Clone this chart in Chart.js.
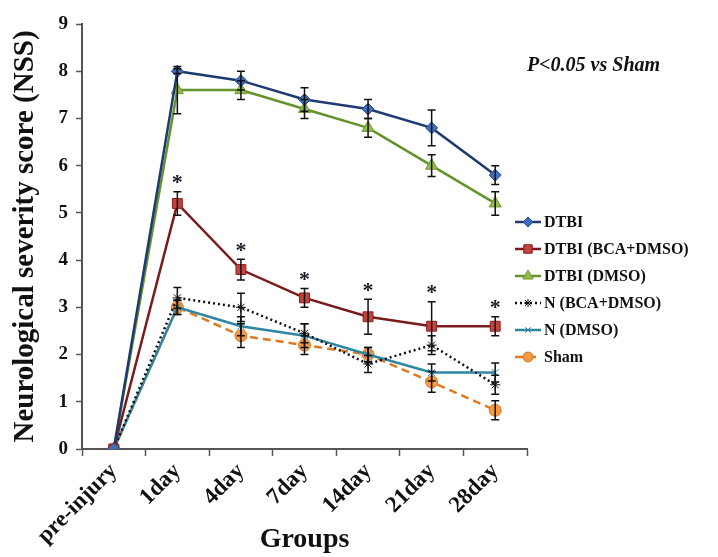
<!DOCTYPE html>
<html lang="en">
<head>
    <meta charset="UTF-8">
    <title>Neurological severity score</title>
    <script src="https://cdn.jsdelivr.net/npm/chart.js"></script>
    <style>
        body { margin: 0; background: #fff; }
        canvas { display: block; }
    </style>
</head>
<body>
    <canvas id="nssChart" width="718" height="557"></canvas>
    <script>
        // data
        const groups = ['pre-injury', '1day', '4day', '7day', '14day', '21day', '28day'];

        const dtbi        = [0, 8.0, 7.8, 7.4, 7.2, 6.8, 5.8];
        const dtbiErr     = [0, 0.05, 0.2, 0.25, 0.2, 0.38, 0.2];
        const dtbiBca     = [0, 5.2, 3.8, 3.2, 2.8, 2.6, 2.6];
        const dtbiBcaErr  = [0, 0.25, 0.22, 0.2, 0.37, 0.52, 0.2];
        const dtbiDmso    = [0, 7.6, 7.6, 7.2, 6.8, 6.0, 5.2];
        const dtbiDmsoErr = [0, 0.5, 0.2, 0.2, 0.2, 0.23, 0.25];
        const nBca        = [0, 3.2, 3.0, 2.45, 1.8, 2.2, 1.36];
        const nBcaErr     = [0, 0.22, 0.3, 0.2, 0.18, 0.2, 0.2];
        const nDmso       = [0, 3.0, 2.6, 2.4, 2.0, 1.62, 1.62];
        const nDmsoErr    = [0, 0.15, 0.2, 0.25, 0.15, 0.18, 0.2];
        const sham        = [0, 3.0, 2.4, 2.2, 2.0, 1.42, 0.82];
        const shamErr     = [0, 0.15, 0.25, 0.2, 0.15, 0.22, 0.2];

        const yTicks = [0, 1, 2, 3, 4, 5, 6, 7, 8, 9];
        // points of DTBI (BCA+DMSO) marked with *
        const starIdx = [1, 2, 3, 4, 5, 6];

        const serif = "'Liberation Serif', 'Times New Roman', serif";

        const errorBars = {
            id: 'errorBars',
            afterDatasetsDraw(chart) {
                const ctx = chart.ctx;
                const y = chart.scales.y;
                ctx.save();
                ctx.strokeStyle = '#111';
                ctx.lineWidth = 1.5;
                chart.data.datasets.forEach((ds, i) => {
                    const meta = chart.getDatasetMeta(i);
                    ds.err.forEach((e, j) => {
                        if (!e) return;
                        const px = meta.data[j].x;
                        const top = y.getPixelForValue(ds.data[j] + e);
                        const bot = y.getPixelForValue(ds.data[j] - e);
                        ctx.beginPath();
                        ctx.moveTo(px, top); ctx.lineTo(px, bot);
                        ctx.moveTo(px - 4, top); ctx.lineTo(px + 4, top);
                        ctx.moveTo(px - 4, bot); ctx.lineTo(px + 4, bot);
                        ctx.stroke();
                    });
                });
                // significance marks
                const bca = chart.data.datasets[1];
                const bmeta = chart.getDatasetMeta(1);
                ctx.fillStyle = '#1b1b2a';
                ctx.font = 'bold 22px ' + serif;
                ctx.textAlign = 'center';
                ctx.textBaseline = 'middle';
                starIdx.forEach(j => {
                    const top = y.getPixelForValue(bca.data[j] + bca.err[j]);
                    ctx.fillText('*', bmeta.data[j].x, top - 8);
                });
                ctx.restore();
            }
        };

        const sideLegend = {
            id: 'sideLegend',
            afterDraw(chart) {
                const ctx = chart.ctx;
                ctx.save();
                chart.data.datasets.forEach((ds, i) => {
                    const yy = 222 + i * 27;
                    ctx.strokeStyle = ds.borderColor;
                    ctx.lineWidth = 2.5;
                    ctx.setLineDash(ds.borderDash || []);
                    ctx.beginPath();
                    ctx.moveTo(515, yy); ctx.lineTo(541, yy);
                    ctx.stroke();
                    ctx.setLineDash([]);
                    ctx.fillStyle = ds.pointBackgroundColor;
                    ctx.strokeStyle = ds.pointBorderColor;
                    ctx.lineWidth = 1;
                    Chart.helpers.drawPoint(ctx, {
                        pointStyle: ds.pointStyle, radius: ds.pointRadius - 1,
                        rotation: 0, borderWidth: 1
                    }, 528, yy);
                    ctx.fillStyle = '#111';
                    ctx.font = 'bold 16px ' + serif;
                    ctx.textAlign = 'left';
                    ctx.textBaseline = 'middle';
                    ctx.fillText(ds.label, 544, yy + 1);
                });
                ctx.font = 'italic bold 20px ' + serif;
                ctx.fillText('P<0.05 vs Sham', 527, 66);
                ctx.restore();
            }
        };

        function series(label, data, err, line, fill, edge, style, radius, dash) {
            return {
                label: label, data: data, err: err,
                borderColor: line, borderWidth: 2.5, borderDash: dash,
                pointStyle: style, pointRadius: radius,
                pointBackgroundColor: fill, pointBorderColor: edge, pointBorderWidth: 1,
                tension: 0
            };
        }

        const ctx = document.getElementById('nssChart').getContext('2d');
        new Chart(ctx, {
            type: 'line',
            data: {
                labels: groups,
                datasets: [
                    series('DTBI', dtbi, dtbiErr, '#1f3a73', '#3f6fb8', '#2a4f8f', 'rectRot', 6),
                    series('DTBI (BCA+DMSO)', dtbiBca, dtbiBcaErr, '#7a1a1a', '#c0433c', '#8a1f1f', 'rect', 7),
                    series('DTBI (DMSO)', dtbiDmso, dtbiDmsoErr, '#64922c', '#97ba4e', '#6f9a34', 'triangle', 7),
                    series('N (BCA+DMSO)', nBca, nBcaErr, '#111111', '#111111', '#111111', 'star', 5, [2, 3]),
                    series('N (DMSO)', nDmso, nDmsoErr, '#2f86a3', '#4aaac8', '#2f86a3', 'crossRot', 5),
                    series('Sham', sham, shamErr, '#e07a22', '#f39a45', '#d9741c', 'circle', 6, [8, 5])
                ]
            },
            options: {
                responsive: false,
                animation: false,
                layout: { padding: { top: 24, right: 191, left: 0, bottom: 0 } },
                plugins: {
                    legend: { display: false },
                    tooltip: { enabled: false }
                },
                scales: {
                    x: {
                        offset: true,
                        afterFit: s => { s.height = 108; },
                        grid: { offset: true, drawOnChartArea: false, tickLength: 7, color: '#555', tickWidth: 1.5 },
                        border: { color: '#555', width: 2 },
                        ticks: {
                            minRotation: 45, maxRotation: 45, padding: 2,
                            color: '#111', font: { family: serif, size: 23, weight: 'bold' }
                        },
                        title: {
                            display: true, text: 'Groups', color: '#111', padding: { top: 0, bottom: 0 },
                            font: { family: serif, size: 28, weight: 'bold' }
                        }
                    },
                    y: {
                        min: 0, max: 9,
                        afterFit: s => { s.width = 82; },
                        afterBuildTicks: s => { s.ticks = yTicks.map(v => ({ value: v })); },
                        grid: { drawOnChartArea: false, tickLength: 6, color: '#555', tickWidth: 1.5 },
                        border: { color: '#555', width: 2 },
                        ticks: {
                            padding: 8, color: '#111',
                            font: { family: serif, size: 19, weight: 'bold' }
                        },
                        title: {
                            display: true, text: 'Neurological severity score (NSS)', color: '#111',
                            padding: { top: 8, bottom: 0 },
                            font: { family: serif, size: 29, weight: 'bold' }
                        }
                    }
                }
            },
            plugins: [errorBars, sideLegend]
        });
    </script>
</body>
</html>
